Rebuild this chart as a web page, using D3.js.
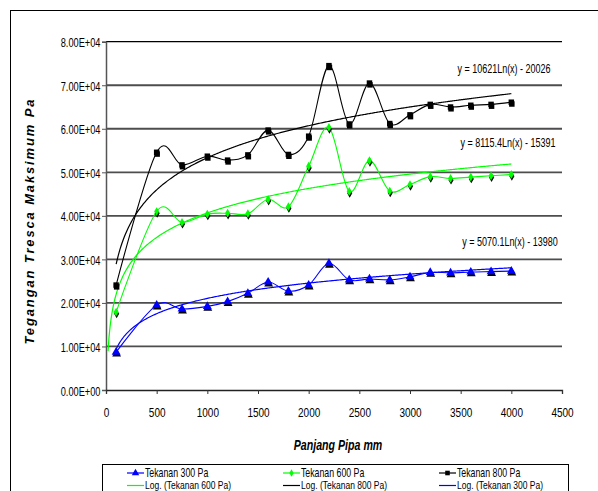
<!DOCTYPE html>
<html>
<head>
<meta charset="utf-8">
<script src="https://cdn.jsdelivr.net/npm/d3@7"></script>
<style>
  html, body { margin: 0; padding: 0; background: #fff; }
  svg { display: block; }
  text { font-family: "Liberation Sans", Arial, sans-serif; }
</style>
</head>
<body>
<svg id="chart" width="598" height="491"></svg>
<script>
// Pipe length (mm) at each measurement
const panjang = [100, 500, 750, 1000, 1200, 1400, 1600, 1800, 2000, 2200, 2400, 2600, 2800, 3000, 3200, 3400, 3600, 3800, 4000];

// Maximum Tresca stress (Pa) for each pressure
const tekanan300 = [8700, 19500, 18600, 19200, 20300, 22200, 24800, 22700, 24100, 29100, 25300, 25500, 25300, 26000, 27000, 26900, 27100, 27200, 27300];
const tekanan600 = [17900, 41000, 38500, 40400, 40600, 40500, 43800, 42100, 51400, 60300, 45600, 52700, 45700, 47200, 49000, 48600, 48900, 49200, 49500];
const tekanan800 = [24100, 54600, 51700, 53700, 52800, 54000, 59700, 54100, 58300, 74500, 61100, 70500, 61200, 63200, 65600, 65000, 65400, 65600, 66100];

// Logarithmic trend coefficients: y = a*Ln(x) + b, and x-range drawn
const trendA = [5070.1, 8115.4, 10621];
const trendB = [-13980, -15391, -20026];
const trendStart = [100, 20, 100];
const trendLabels = ["y = 5070.1Ln(x) - 13980", "y = 8115.4Ln(x) - 15391", "y = 10621Ln(x) - 20026"];

const seriesNames = ["Tekanan 300 Pa", "Tekanan 600 Pa", "Tekanan 800 Pa"];
const trendNames = ["Log. (Tekanan 300 Pa)", "Log. (Tekanan 600 Pa)", "Log. (Tekanan 800 Pa)"];

const xTicks = [0, 500, 1000, 1500, 2000, 2500, 3000, 3500, 4000, 4500];
const yTicks = [0, 10000, 20000, 30000, 40000, 50000, 60000, 70000, 80000];

const colors = ["#0000ff", "#00ff00", "#000000"];
const markerTypes = [d3.symbolTriangle, d3.symbolDiamond, d3.symbolSquare];
const markerSizes = [34, 22, 30];

// condensed look: squeeze text horizontally, keeping its anchor point in place
function squeeze(sel, s) {
  sel.each(function () {
    const t = d3.select(this);
    const xv = +t.attr("x") || 0;
    t.attr("x", xv / s).attr("transform", `scale(${s},1)`);
  });
}

const svg = d3.select("#chart");

// outer chart frame
svg.append("rect")
  .attr("x", 10.5).attr("y", 10.5)
  .attr("width", 600).attr("height", 500)
  .attr("fill", "none").attr("stroke", "#000").attr("stroke-width", 1);

const x = d3.scaleLinear().domain([0, 4500]).range([106, 562]);
const y = d3.scaleLinear().domain([0, 80000]).range([390, 41.7]);

// horizontal gridlines
svg.append("g").selectAll("line")
  .data(yTicks.filter(d => d > 0))
  .join("line")
  .attr("x1", x(0)).attr("x2", x(4500))
  .attr("y1", d => y(d)).attr("y2", d => y(d))
  .attr("stroke", d => d === 80000 ? "#000" : "#4d4d4d")
  .attr("stroke-width", d => d === 80000 ? 1.3 : 1.8);

const fmtE = v => {
  const [m, e] = v.toExponential(2).split("e");
  const n = Math.abs(+e);
  return m + "E" + (+e < 0 ? "-" : "+") + (n < 10 ? "0" + n : n);
};

// y axis
const yAxis = svg.append("g")
  .attr("transform", `translate(${x(0)},0)`)
  .call(d3.axisLeft(y).tickValues(yTicks).tickFormat(fmtE).tickSize(4).tickPadding(1.5));
yAxis.select(".domain").attr("stroke", "#555").attr("stroke-width", 1.5);
yAxis.selectAll(".tick line").attr("stroke", "#555");
yAxis.selectAll("text").attr("font-family", null).attr("font-size", 12.5).attr("fill", "#000")
  .attr("dy", "0.4em")
  .call(squeeze, 0.74);

// x axis
const xAxis = svg.append("g")
  .attr("transform", `translate(0,${y(0)})`)
  .call(d3.axisBottom(x).tickValues(xTicks).tickFormat(d3.format("d")).tickSize(4).tickPadding(14));
xAxis.select(".domain").attr("stroke", "#222").attr("stroke-width", 1.3);
xAxis.selectAll(".tick line").attr("stroke", "#333");
xAxis.selectAll("text").attr("font-family", null).attr("font-size", 12.5).attr("fill", "#000")
  .call(squeeze, 0.8);

// axis titles
svg.append("text")
  .attr("transform", "translate(34,222) rotate(-90)")
  .attr("text-anchor", "middle")
  .attr("font-weight", "bold").attr("font-style", "italic")
  .attr("font-size", 13)
  .attr("textLength", 245).attr("lengthAdjust", "spacing")
  .text("Tegangan Tresca  Maksimum Pa");

svg.append("text")
  .attr("x", 338).attr("y", 450)
  .attr("text-anchor", "middle")
  .attr("font-weight", "bold").attr("font-style", "italic")
  .attr("font-size", 14)
  .text("Panjang Pipa mm")
  .call(squeeze, 0.76);

const allSeries = [tekanan300, tekanan600, tekanan800];

// log trendlines
allSeries.forEach((vals, i) => {
  const xs = d3.range(trendStart[i], 4000, 10).concat([4000]);
  const line = d3.line()
    .x(d => x(d))
    .y(d => y(trendA[i] * Math.log(d) + trendB[i]));
  svg.append("path")
    .datum(xs)
    .attr("d", line)
    .attr("fill", "none")
    .attr("stroke", colors[i])
    .attr("stroke-width", 1.2);
});

// smoothed data lines with markers
allSeries.forEach((vals, i) => {
  const pts = panjang.map((p, k) => [p, vals[k]]);
  const line = d3.line()
    .x(d => x(d[0])).y(d => y(d[1]))
    .curve(d3.curveCatmullRom.alpha(0));
  svg.append("path")
    .datum(pts)
    .attr("d", line)
    .attr("fill", "none")
    .attr("stroke", colors[i])
    .attr("stroke-width", 1.1);

  const sym = d3.symbol().type(markerTypes[i]).size(markerSizes[i]);
  const g = svg.append("g");
  g.selectAll("path.shadow")
    .data(pts).join("path")
    .attr("class", "shadow")
    .attr("transform", d => `translate(${x(d[0]) + 0.5},${y(d[1]) + 1.8})`)
    .attr("d", sym)
    .attr("fill", "#000");
  g.selectAll("path.mark")
    .data(pts).join("path")
    .attr("class", "mark")
    .attr("transform", d => `translate(${x(d[0])},${y(d[1])})`)
    .attr("d", sym)
    .attr("fill", colors[i]);
});

// trend equations
const eqPos = [[510, 246], [508, 147.5], [504, 73.5]];
trendLabels.forEach((t, i) => {
  svg.append("text")
    .attr("x", eqPos[i][0]).attr("y", eqPos[i][1])
    .attr("text-anchor", "middle")
    .attr("font-size", 12)
    .text(t)
    .call(squeeze, 0.75);
});

// legend
svg.append("rect")
  .attr("x", 102.5).attr("y", 464.5)
  .attr("width", 466).attr("height", 40)
  .attr("fill", "#fff").attr("stroke", "#000").attr("stroke-width", 1);

const colX = [127, 283, 439];
const legendRow1 = [0, 1, 2];       // data series order
const legendRow2 = [1, 2, 0];       // trendline order
legendRow1.forEach((s, c) => {
  const ly = 473;
  svg.append("line")
    .attr("x1", colX[c]).attr("x2", colX[c] + 17)
    .attr("y1", ly).attr("y2", ly)
    .attr("stroke", colors[s]).attr("stroke-width", 1.2);
  svg.append("path")
    .attr("transform", `translate(${colX[c] + 8.5},${ly})`)
    .attr("d", d3.symbol().type(markerTypes[s]).size(markerSizes[s] * 0.7))
    .attr("fill", colors[s]);
  svg.append("text")
    .attr("x", colX[c] + 18).attr("y", ly + 4.2)
    .attr("font-size", 12)
    .text(seriesNames[s])
    .call(squeeze, 0.73);
});
legendRow2.forEach((s, c) => {
  const ly = 485.5;
  svg.append("line")
    .attr("x1", colX[c]).attr("x2", colX[c] + 17)
    .attr("y1", ly).attr("y2", ly)
    .attr("stroke", colors[s]).attr("stroke-width", 1.2);
  svg.append("text")
    .attr("x", colX[c] + 18).attr("y", ly + 3.6)
    .attr("font-size", 11.5)
    .text(trendNames[s])
    .call(squeeze, 0.74);
});
</script>
</body>
</html>
